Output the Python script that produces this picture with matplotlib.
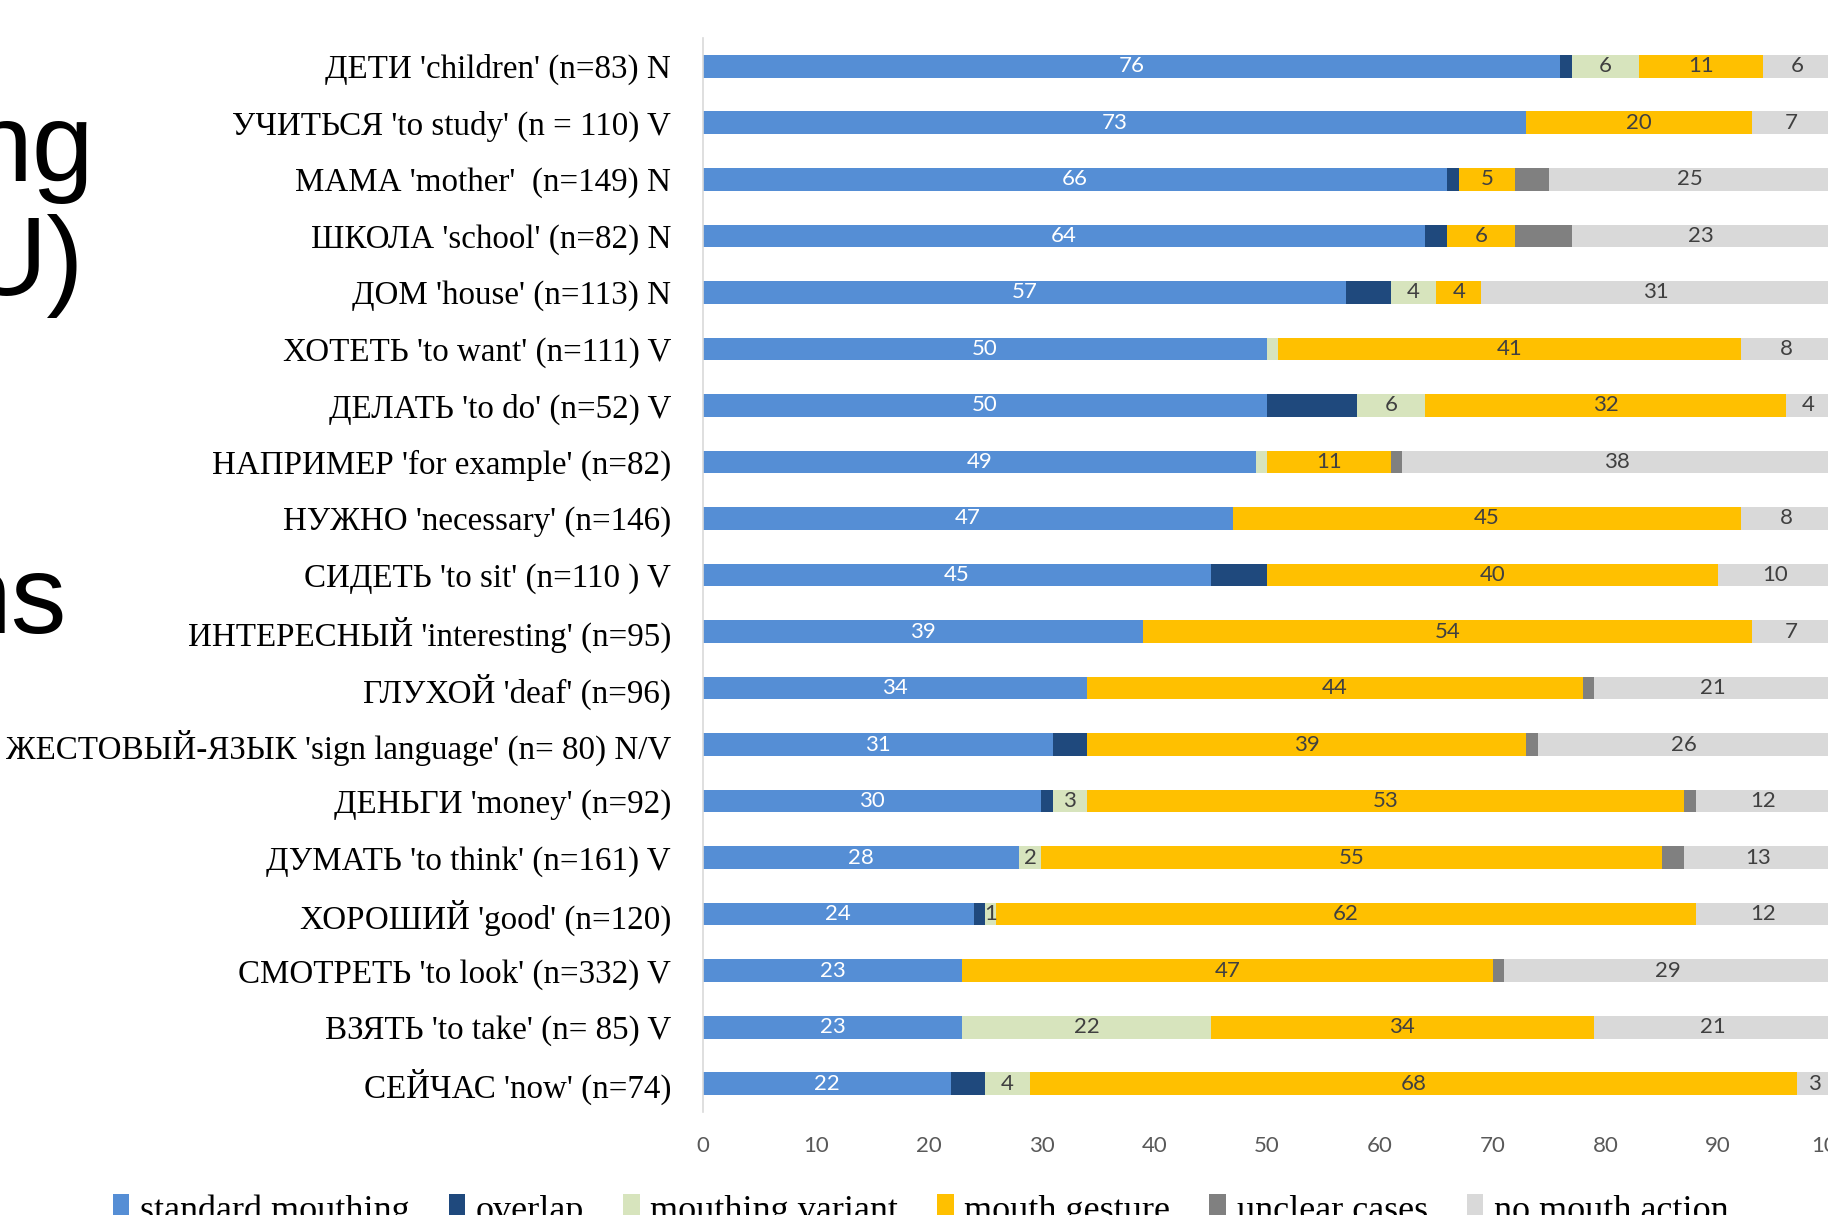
import matplotlib
matplotlib.use("Agg")
import matplotlib.pyplot as plt
import numpy as np

categories = [
    "ДЕТИ 'children' (n=83) N",
    "УЧИТЬСЯ 'to study' (n = 110) V",
    "МАМА 'mother'  (n=149) N",
    "ШКОЛА 'school' (n=82) N",
    "ДОМ 'house' (n=113) N",
    "ХОТЕТЬ 'to want' (n=111) V",
    "ДЕЛАТЬ 'to do' (n=52) V",
    "НАПРИМЕР 'for example' (n=82)",
    "НУЖНО 'necessary' (n=146)",
    "СИДЕТЬ 'to sit' (n=110 ) V",
    "ИНТЕРЕСНЫЙ 'interesting' (n=95)",
    "ГЛУХОЙ 'deaf' (n=96)",
    "ЖЕСТОВЫЙ-ЯЗЫК 'sign language' (n= 80) N/V",
    "ДЕНЬГИ 'money' (n=92)",
    "ДУМАТЬ 'to think' (n=161) V",
    "ХОРОШИЙ 'good' (n=120)",
    "СМОТРЕТЬ 'to look' (n=332) V",
    "ВЗЯТЬ 'to take' (n= 85) V",
    "СЕЙЧАС 'now' (n=74)",
]
standard = [76, 73, 66, 64, 57, 50, 50, 49, 47, 45, 39, 34, 31, 30, 28, 24, 23, 23, 22]
overlap  = [1, 0, 1, 2, 4, 0, 8, 0, 0, 5, 0, 0, 3, 1, 0, 1, 0, 0, 3]
variant  = [6, 0, 0, 0, 4, 1, 6, 1, 0, 0, 0, 0, 0, 3, 2, 1, 0, 22, 4]
gesture  = [11, 20, 5, 6, 4, 41, 32, 11, 45, 40, 54, 44, 39, 53, 55, 62, 47, 34, 68]
unclear  = [0, 0, 3, 5, 0, 0, 0, 1, 0, 0, 0, 1, 1, 1, 2, 0, 1, 0, 0]
no_mouth = [6, 7, 25, 23, 31, 8, 4, 38, 8, 10, 7, 21, 26, 12, 13, 12, 29, 21, 3]
variant_labels = ["6", "", "", "", "4", "", "6", "", "", "", "", "", "", "3", "2", "1", "", "22", "4"]

series_names = ["standard mouthing", "overlap", "mouthing variant",
                "mouth gesture", "unclear cases", "no mouth action"]
colors = ["#558ed5", "#1f497d", "#d7e4bd", "#ffc000", "#808080", "#d9d9d9"]
ticks = [0, 10, 20, 30, 40, 50, 60, 70, 80, 90, 100]

W, H = 1828, 1215
fig = plt.figure(figsize=(W / 100, H / 100), dpi=100)
ax = fig.add_axes([703 / W, 1 - 1112 / H, 1128 / W, 1074 / H])

y = np.arange(len(categories))
data = [standard, overlap, variant, gesture, unclear, no_mouth]
left = np.zeros(len(categories))
label_font = "Lato"
for i, (vals, name, col) in enumerate(zip(data, series_names, colors)):
    vals = np.array(vals, dtype=float)
    ax.barh(y, vals, left=left, height=0.4, color=col, label=name, edgecolor="none")
    for j, v in enumerate(vals):
        txt = None
        if i == 0:
            txt, tc = str(int(v)), "white"
        elif i == 2:
            txt, tc = variant_labels[j], "#404040"
        elif i in (3, 5) and v > 0:
            txt, tc = str(int(v)), "#404040"
        if txt:
            ax.text(left[j] + v / 2, y[j], txt, ha="center", va="center",
                    color=tc, fontsize=16, family=label_font)
    left += vals

ax.set_xlim(0, 100)
ax.set_ylim(len(categories) - 0.5, -0.5)
ax.set_yticks(y)
ax.set_yticklabels(categories, family="Liberation Serif", fontsize=23.8, color="black")
ax.set_xticks(ticks)
ax.set_xticklabels([str(t) for t in ticks], family=label_font, fontsize=16, color="#595959")
ax.tick_params(axis="y", length=0, pad=23)
ax.tick_params(axis="x", length=0, pad=17)
for s in ["top", "right", "bottom"]:
    ax.spines[s].set_visible(False)
ax.spines["left"].set_color("#d9d9d9")
ax.spines["left"].set_linewidth(1.2)

handles, labels = ax.get_legend_handles_labels()
fig.legend(handles, labels, loc="upper left", bbox_to_anchor=(113 / W, 1 - 1194 / H),
           ncol=6, frameon=False, prop={"family": "Liberation Serif", "size": 26},
           handlelength=0.45, handleheight=0.7, handletextpad=0.3,
           columnspacing=1.08, borderaxespad=0, borderpad=0)

# partial slide title text at the left edge
big = dict(family="Liberation Sans", fontsize=80, color="black", ha="right", va="baseline")
fig.text(94 / W, 1 - 181 / H, "ng", **big)
fig.text(84 / W, 1 - 295 / H, "U)", **big)
fig.text(67 / W, 1 - 633 / H, "ns", **big)

fig.savefig("out.png", dpi=100)
